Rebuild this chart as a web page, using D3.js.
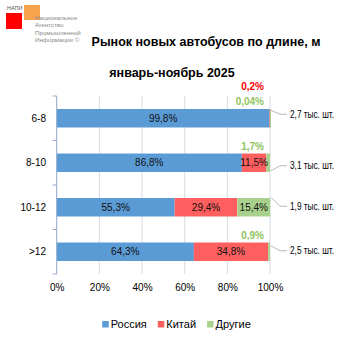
<!DOCTYPE html>
<html>
<head>
<meta charset="utf-8">
<script src="https://cdn.jsdelivr.net/npm/d3@7"></script>
<style>
  body { margin: 0; background: #fff; }
  svg { display: block; font-family: "Liberation Sans", Arial, sans-serif; }
</style>
</head>
<body>
<div id="chart"></div>
<script>
const categories = ['6-8', '8-10', '10-12', '>12'];
const russia = [99.8, 86.8, 55.3, 64.3];
const china = [0.2, 11.5, 29.4, 34.8];
const others = [0.04, 1.7, 15.4, 0.9];
const totals = ['2,7 тыс. шт.', '3,1 тыс. шт.', '1,9 тыс. шт.', '2,5 тыс. шт.'];
const xTicks = [0, 20, 40, 60, 80, 100];
const seriesNames = ['Россия', 'Китай', 'Другие'];

const COLORS = {
    bar: ['#5b9bd5', '#ff5f5f', '#a9d18e'],
    outside: ['#5b9bd5', '#ff0000', '#8fc35f'],
    grid: '#d6dce5',
    axis: '#8ea9c9',
    leader: '#a6a6a6'
};

// leader-line tweaks per row (start offset, text offset from bar centre)
const leaderStart = [-8, 8, -10, -6];
const leaderText = [-4, 3, -1, -1];

const W = 353, H = 353;
const svg = d3.select('#chart').append('svg').attr('width', W).attr('height', H);

// logo
const logo = svg.append('g');
logo.append('rect').attr('x', 6).attr('y', 13).attr('width', 16).attr('height', 16).attr('fill', '#ff0000');
logo.append('rect').attr('x', 24).attr('y', 5).attr('width', 16).attr('height', 15).attr('fill', '#f7a34b');
logo.append('text').attr('x', 7).attr('y', 9.5).attr('font-size', 5.5).attr('fill', '#555').text('НАПИ');
['Национальное', 'Агентство', 'Промышленной', 'Информации ©'].forEach((t, i) => {
    logo.append('text').attr('x', 35).attr('y', 19.5 + i * 7.6)
        .attr('font-size', 6.2).attr('fill', '#8a8a8a').text(t);
});

// title
svg.append('text').attr('x', 206).attr('y', 46).attr('text-anchor', 'middle')
    .attr('font-size', 12.5).attr('font-weight', 'bold').attr('fill', '#000')
    .text('Рынок новых автобусов по длине, м');
svg.append('text').attr('x', 172).attr('y', 77).attr('text-anchor', 'middle')
    .attr('font-size', 12.5).attr('font-weight', 'bold').attr('fill', '#000')
    .text('январь-ноябрь 2025');

const x = d3.scaleLinear().domain([0, 100]).range([56.7, 270]);
const y = d3.scaleBand().domain(categories).range([96, 274])
    .paddingInner(0.585).paddingOuter(0.2925);

const g = svg.append('g');

// gridlines
g.selectAll('.grid').data(xTicks.slice(1)).enter().append('line')
    .attr('x1', d => x(d)).attr('x2', d => x(d))
    .attr('y1', 96).attr('y2', 274)
    .attr('stroke', COLORS.grid).attr('stroke-width', 1);

// x axis labels
const xAxis = g.append('g').attr('transform', 'translate(0,274)')
    .call(d3.axisBottom(x).tickValues(xTicks).tickSize(0).tickPadding(10).tickFormat(d => d + '%'));
xAxis.select('.domain').remove();
xAxis.selectAll('text').attr('font-family', '"Liberation Sans", Arial, sans-serif')
    .attr('font-size', 10).attr('fill', '#000');

// stacked data
const rows = categories.map((c, i) => ({ cat: c, s0: russia[i], s1: china[i], s2: others[i] }));
const stack = d3.stack().keys(['s0', 's1', 's2'])(rows);

stack.forEach((layer, k) => {
    g.selectAll('.bar' + k).data(layer).enter().append('rect')
        .attr('x', d => x(d[0]))
        .attr('width', d => Math.max(0.8, x(d[1]) - x(d[0])))
        .attr('y', d => y(d.data.cat))
        .attr('height', y.bandwidth())
        .attr('fill', COLORS.bar[k]);
});

// data labels
const fmt = v => String(v).replace('.', ',') + '%';
const outsideCount = categories.map(() => 0);
for (let k = 2; k >= 0; k--) {
    stack[k].forEach((d, i) => {
        const val = [russia, china, others][k][i];
        const yc = y(d.data.cat) + y.bandwidth() / 2;
        if (val >= 5) {
            g.append('text')
                .attr('x', x((d[0] + d[1]) / 2)).attr('y', yc).attr('dy', '0.35em')
                .attr('text-anchor', 'middle').attr('font-size', 10).attr('fill', '#111')
                .text(fmt(val));
        } else {
            const n = outsideCount[i]++;
            g.append('text')
                .attr('x', 264).attr('y', yc - 16.5 - n * 15).attr('dy', '0.35em')
                .attr('text-anchor', 'end').attr('font-size', 10).attr('font-weight', 'bold')
                .attr('fill', COLORS.outside[k])
                .text(fmt(val));
        }
    });
}

// y axis
g.append('line').attr('x1', 56.7).attr('x2', 56.7).attr('y1', 96).attr('y2', 274)
    .attr('stroke', COLORS.axis);
const bounds = d3.range(categories.length + 1).map(i => 96 + i * y.step());
g.selectAll('.ytick').data(bounds).enter().append('line')
    .attr('x1', 52.7).attr('x2', 56.7).attr('y1', d => d).attr('y2', d => d)
    .attr('stroke', COLORS.axis);
g.selectAll('.ylab').data(categories).enter().append('text')
    .attr('x', 46).attr('y', d => y(d) + y.bandwidth() / 2).attr('dy', '0.35em')
    .attr('text-anchor', 'end').attr('font-size', 10).attr('fill', '#000')
    .text(d => d);

// totals with leader lines
categories.forEach((c, i) => {
    const yc = y(c) + y.bandwidth() / 2;
    const x1 = x(100);
    const ty = yc + leaderText[i];
    g.append('polyline')
        .attr('points', `${x1 + 1},${yc + leaderStart[i]} ${x1 + 10},${ty} ${x1 + 17},${ty}`)
        .attr('fill', 'none').attr('stroke', COLORS.leader).attr('stroke-width', 0.8);
    g.append('text').attr('x', x1 + 20).attr('y', ty).attr('dy', '0.35em')
        .attr('font-size', 10).attr('fill', '#000')
        .attr('textLength', 44).attr('lengthAdjust', 'spacingAndGlyphs')
        .text(totals[i]);
});

// legend
const legend = svg.append('g');
let lx = 0;
seriesNames.forEach((name, k) => {
    const it = legend.append('g').attr('transform', `translate(${lx},0)`);
    it.append('rect').attr('x', 0).attr('y', -6).attr('width', 6.5).attr('height', 6.5).attr('fill', COLORS.bar[k]);
    const t = it.append('text').attr('x', 8.5).attr('y', 0.5).attr('font-size', 11).attr('fill', '#000').text(name);
    lx += 8.5 + t.node().getComputedTextLength() + 11;
});
const legendW = lx - 11;
legend.attr('transform', `translate(${176.5 - legendW / 2},327)`);
</script>
</body>
</html>
